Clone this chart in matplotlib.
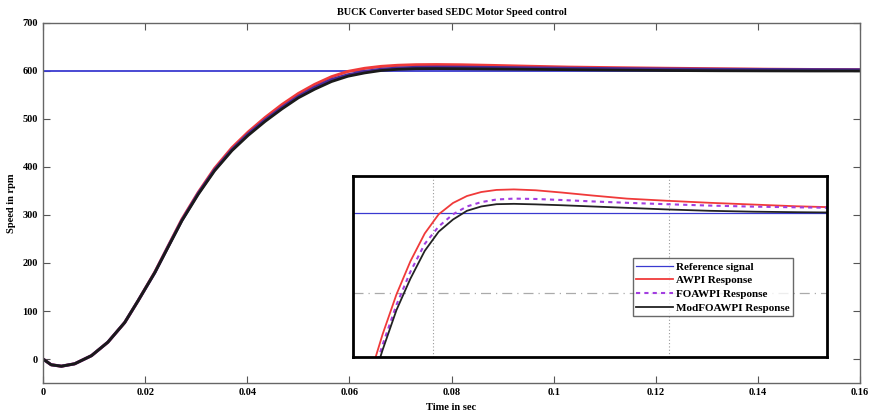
import matplotlib.pyplot as plt

plt.rcParams['font.family'] = ['Liberation Serif', 'DejaVu Serif']
plt.rcParams['font.weight'] = 'bold'
plt.rcParams['lines.solid_joinstyle'] = 'round'

# time axis (s) and speed responses (rpm)
t = [0, 0.0016, 0.0036, 0.0062, 0.0095, 0.0127, 0.016, 0.0186, 0.0219, 0.0245,
     0.0272, 0.0304, 0.0336, 0.037, 0.0402, 0.0435, 0.0468, 0.05, 0.0532, 0.0565,
     0.0597, 0.063, 0.0662, 0.0695, 0.073, 0.077, 0.082, 0.088, 0.095, 0.103,
     0.112, 0.122, 0.132, 0.142, 0.151, 0.16]
reference = [600] * len(t)
awpi = [0, -12, -15, -10, 7, 35, 76, 121, 181, 235,
        291, 347, 397, 440, 473, 503, 530, 553, 572, 588,
        599, 605.5, 609.5, 611.8, 613, 613.3, 612.8, 611.5, 609.8, 608,
        606.8, 605.6, 604.6, 603.6, 603, 602.5]
foawpi = [0, -12, -15, -10, 7, 35, 76, 121, 180, 234,
          289, 345, 394, 436, 469, 498, 524, 547, 566, 582,
          592, 599, 603.5, 606, 607.5, 608, 607.8, 607.2, 606.4, 605.6,
          604.8, 604, 603.4, 603, 602.7, 602.5]
modfoawpi = [0, -12, -15, -10, 7, 35, 76, 121, 180, 233,
             288, 343, 392, 434, 466, 495, 521, 544, 562, 578,
             589, 596, 601, 603.5, 604.8, 605, 604.7, 604.2, 603.5, 602.7,
             601.8, 601, 600.5, 600.2, 600, 600]

xticks = [0, 0.02, 0.04, 0.06, 0.08, 0.1, 0.12, 0.14, 0.16]
xtick_labels = ['0', '0.02', '0.04', '0.06', '0.08', '0.1', '0.12', '0.14', '0.16']
yticks = [0, 100, 200, 300, 400, 500, 600, 700]

# zoomed view
inset_xlim = (0.040, 0.149)
inset_ylim = (517, 621)
inset_vgrid = [0.0583, 0.1127]
inset_hgrid = [554]

fig = plt.figure(figsize=(8.74, 4.15), dpi=100)
ax = fig.add_axes([0.0492, 0.0771, 0.9348, 0.8675])

ax.plot(t, reference, color='#3a3ad0', lw=1.3)
ax.plot(t, awpi, color='#f03a3a', lw=2.2)
ax.plot(t, foawpi, color='#4a2a9a', lw=2.2)
ax.plot(t, modfoawpi, color='#1a1a1a', lw=2.0)

ax.set_xlim(0, 0.16)
ax.set_ylim(-50, 700)
ax.set_xticks(xticks)
ax.set_xticklabels(xtick_labels)
ax.set_yticks(yticks)
ax.tick_params(direction='in', top=True, right=True, labelsize=7.5, length=5,
               color='#555555')
for s in ax.spines.values():
    s.set_color('#666666')
    s.set_linewidth(1.0)
ax.set_title('BUCK Converter based SEDC Motor Speed control', fontsize=7.5,
             fontweight='bold', pad=6)
ax.set_xlabel('Time in sec', fontsize=7.5, fontweight='bold', labelpad=4.5)
ax.set_ylabel('Speed in rpm', fontsize=7.5, fontweight='bold', labelpad=5)

axin = fig.add_axes([0.4039, 0.1398, 0.5423, 0.4361])
for v in inset_vgrid:
    axin.axvline(v, color='#999999', lw=0.8, ls=(0, (1, 2)))
for h in inset_hgrid:
    axin.axhline(h, color='#aaaaaa', lw=0.9, ls=(0, (8, 4, 1, 4)))
axin.plot(t, reference, color='#3a3ad0', lw=0.9, label='Reference signal')
axin.plot(t, awpi, color='#f03a3a', lw=1.3, label='AWPI Response')
axin.plot(t, foawpi, color='#a23ee0', lw=1.5, ls=(0, (2, 2)),
          label='FOAWPI Response')
axin.plot(t, modfoawpi, color='#222222', lw=1.3, label='ModFOAWPI Response')
axin.set_xlim(*inset_xlim)
axin.set_ylim(*inset_ylim)
axin.set_xticks([])
axin.set_yticks([])
for s in axin.spines.values():
    s.set_color('black')
    s.set_linewidth(2.0)

leg = axin.legend(loc='lower left', bbox_to_anchor=(0.59, 0.227), fontsize=8,
                  frameon=True, fancybox=False, handlelength=3.3,
                  handletextpad=0.3, borderpad=0.3, labelspacing=0.35,
                  borderaxespad=0)
leg.get_frame().set_edgecolor('#444444')
leg.get_frame().set_linewidth(1.0)

fig.savefig('out.png', dpi=100)
